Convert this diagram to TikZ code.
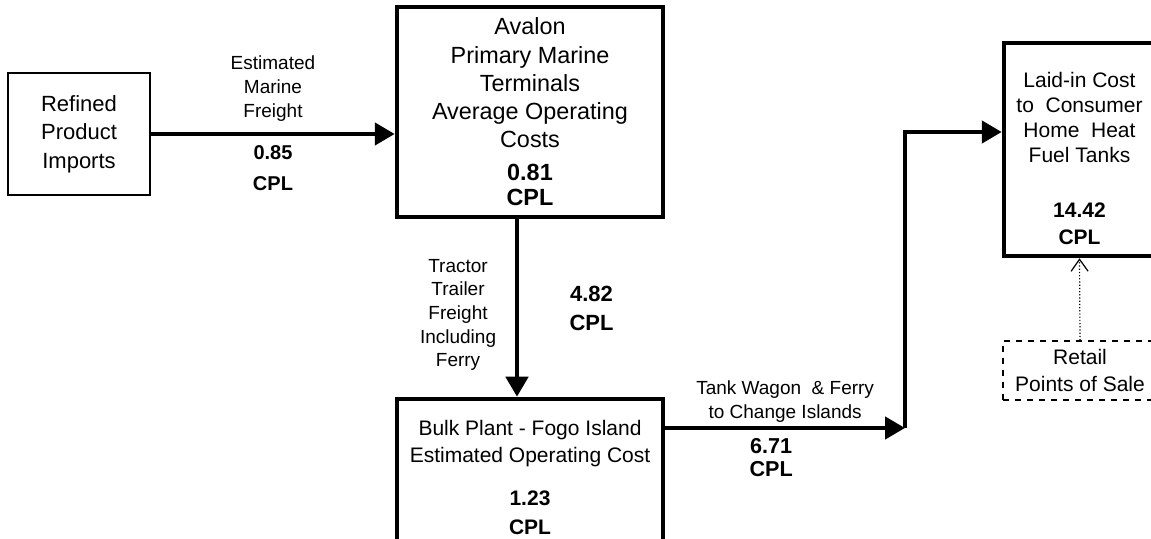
\documentclass[tikz,border=0pt]{standalone}
\usepackage{fontspec}
\setmainfont{Liberation Sans}
\usetikzlibrary{arrows.meta}

\begin{document}
\begin{tikzpicture}[x=0.5pt,y=-0.5pt,
  box/.style={draw,line width=2.25pt,align=center,inner sep=0pt},
  lbl/.style={align=center,font=\fontsize{9.5}{11.8}\selectfont},
  val/.style={align=center,font=\bfseries\fontsize{11}{14.5}\selectfont},
  flow/.style={line width=2.25pt,-{Triangle[length=10pt,width=11pt]}}]
  \useasboundingbox (0,0) rectangle (1151,539);
  \clip (0,0) rectangle (1151,539);
  %
  \node[box,line width=1.2pt,minimum width=71pt,minimum height=61pt,
    font=\fontsize{11}{14.25}\selectfont] (imports) at (79,134)
    {Refined\\Product\\Imports};
  \node[box,minimum width=133pt,minimum height=105pt,
    font=\fontsize{11.7}{14.1}\selectfont] (avalon) at (530,112)
    {Avalon\\Primary Marine\\Terminals\\Average Operating\\Costs\\[2.5pt]
     {\bfseries 0.81}\\[-1.6pt]{\bfseries CPL}};
  \node[box,minimum width=133pt,minimum height=78.5pt,
    font=\fontsize{10.5}{13.5}\selectfont] (bulk) at (530,477.5)
    {Bulk Plant - Fogo Island\\Estimated Operating Cost\\[8pt]
     {\bfseries 1.23}\\[1pt]{\bfseries CPL}};
  \node[box,minimum width=75.5pt,minimum height=106.5pt,
    font=\fontsize{10.5}{12.5}\selectfont] (home) at (1079.5,149.5)
    {\rule{0pt}{16.6pt}Laid-in Cost\\to~~Consumer\\Home~~Heat\\Fuel Tanks\\[15pt]
     {\bfseries 14.42}\\[1pt]{\bfseries CPL}};
  \node[draw,dashed,line width=0.75pt,minimum width=77pt,minimum height=29.5pt,
    align=center,font=\fontsize{10.5}{13.5}\selectfont] (retail) at (1080,370.5)
    {Retail\\Points of Sale};
  %
  \coordinate (drop) at (517,0);
  \coordinate (jct) at (905,428);
  \coordinate (bend) at (905,132);
  %
  \draw[flow] (imports.east) -- (imports.east -| avalon.west)
    node[midway,above=2pt,lbl] (marine) {Estimated\\Marine\\Freight}
    node[midway,below=1.5pt,val,font=\bfseries\fontsize{10}{15.5}\selectfont] (marinecost) {0.85\\CPL};
  \draw[flow] (avalon.south -| drop) -- (bulk.north -| drop)
    node[midway,left=6pt,yshift=-3.5pt,lbl] (tractor) {Tractor\\Trailer\\Freight\\Including\\Ferry}
    node[midway,right=21.8pt,val] (tractorcost) {4.82\\CPL};
  \draw[flow] (bulk.east |- jct) -- (jct)
    node[midway,above=-1.5pt,lbl] (wagon) {Tank Wagon~~\& Ferry\\to Change Islands}
    node[midway,below=1pt,xshift=-7pt,val,font=\bfseries\fontsize{10.8}{11.5}\selectfont] (wagoncost) {6.71\\CPL};
  \draw[flow] (jct) -- (bend) -- (bend -| home.west);
  \draw[densely dotted,line width=0.6pt,-{Straight Barb[length=6pt,width=8.5pt]}]
    (retail.north) -- (home.south);
\end{tikzpicture}
\end{document}
